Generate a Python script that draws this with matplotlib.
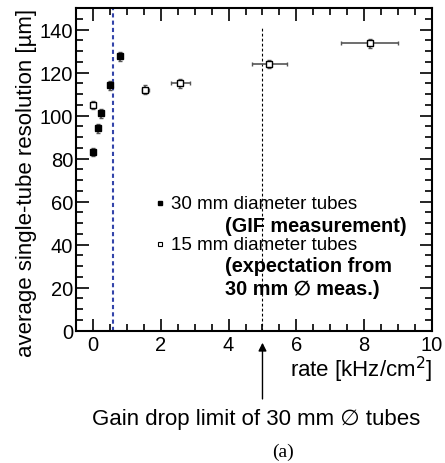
import matplotlib
matplotlib.use('Agg')
import matplotlib.pyplot as plt
import numpy as np

plt.rcParams['font.family'] = ['Liberation Sans', 'DejaVu Sans']

# 30 mm tubes (GIF measurement)
rate_30 = [0.0, 0.15, 0.25, 0.51, 0.8]
res_30 = [83, 94, 101, 114, 127.5]
res_30_err = [2, 2, 2, 2, 2]

# 15 mm tubes (expectation)
rate_15 = [0.0, 1.54, 2.58, 5.2, 8.16]
rate_15_err = [0.02, 0.1, 0.27, 0.52, 0.83]
res_15 = [105, 112, 115, 124, 133.5]
res_15_err = [2, 2, 2, 2, 2]

fig = plt.figure(figsize=(4.45, 4.64), dpi=100)
ax = fig.add_axes([0.1708, 0.2851, 0.8, 0.6955])

ax.errorbar(rate_30, res_30, yerr=res_30_err, fmt='s', color='black', ms=4.2,
            ecolor='#555555', elinewidth=1.2, capsize=1.5, zorder=3)
ax.errorbar(rate_15, res_15, xerr=rate_15_err, yerr=res_15_err, fmt='s', mfc='white',
            mec='black', mew=1.0, ms=4.2, ecolor='#555555', elinewidth=1.2, capsize=1.5, zorder=3)

ax.axvline(0.6, color='#3344aa', ls=(0, (2, 1.5)), lw=1.5)
ax.axvline(10, color='#dd2222', ls=(0, (2, 1.5)), lw=2)
ax.plot([5, 5], [0, 141], color='black', ls=(0, (2.5, 2)), lw=0.8)

ax.set_xlim(-0.5, 10)
ax.set_ylim(0, 150)
ax.set_xticks([0, 2, 4, 6, 8, 10])
ax.set_xticks(np.arange(-0.5, 10.01, 0.5), minor=True)
ax.set_yticks([0, 20, 40, 60, 80, 100, 120, 140])
ax.set_yticks(np.arange(0, 150.1, 5), minor=True)
ax.tick_params(which='both', direction='in', top=True, right=True, labelsize=14.5, width=1.2)
ax.tick_params(which='major', length=9)
ax.tick_params(which='minor', length=5)
ax.tick_params(axis='x', pad=3)
ax.tick_params(axis='y', pad=2)
for s in ax.spines.values():
    s.set_linewidth(1.5)

ax.set_ylabel('average single-tube resolution [µm]', fontsize=16, loc='top', labelpad=2)
ax.set_xlabel('rate [kHz/cm$^2$]', fontsize=16, loc='right', labelpad=0)

# legend drawn as text
ax.plot([1.98], [59.3], 's', color='black', ms=3)
ax.plot([1.98], [40.3], 's', mfc='white', mec='black', mew=0.8, ms=3)
ax.text(2.3, 59.3, '30 mm diameter tubes', fontsize=13.5, va='center')
ax.text(3.9, 49.1, '(GIF measurement)', fontsize=14.3, weight='bold', va='center')
ax.text(2.3, 40.3, '15 mm diameter tubes', fontsize=13.5, va='center')
ax.text(3.9, 30.5, '(expectation from', fontsize=14.3, weight='bold', va='center')
ax.text(3.9, 19.4, '30 mm \u2205 meas.)', fontsize=14.3, weight='bold', va='center')

ax.annotate('', xy=(5, -4.3), xycoords='data', xytext=(5, -33),
            arrowprops=dict(arrowstyle='-|>', color='black', lw=1.0, mutation_scale=12),
            annotation_clip=False)
fig.text(256 / 445, 1 - 419 / 464, 'Gain drop limit of 30 mm \u2205 tubes', fontsize=16,
         ha='center', va='center')
fig.text(283 / 445, 1 - 452 / 464, '(a)', fontsize=14, ha='center', va='center',
         family=['Liberation Serif', 'DejaVu Serif'])

fig.savefig('out.png', dpi=100)
